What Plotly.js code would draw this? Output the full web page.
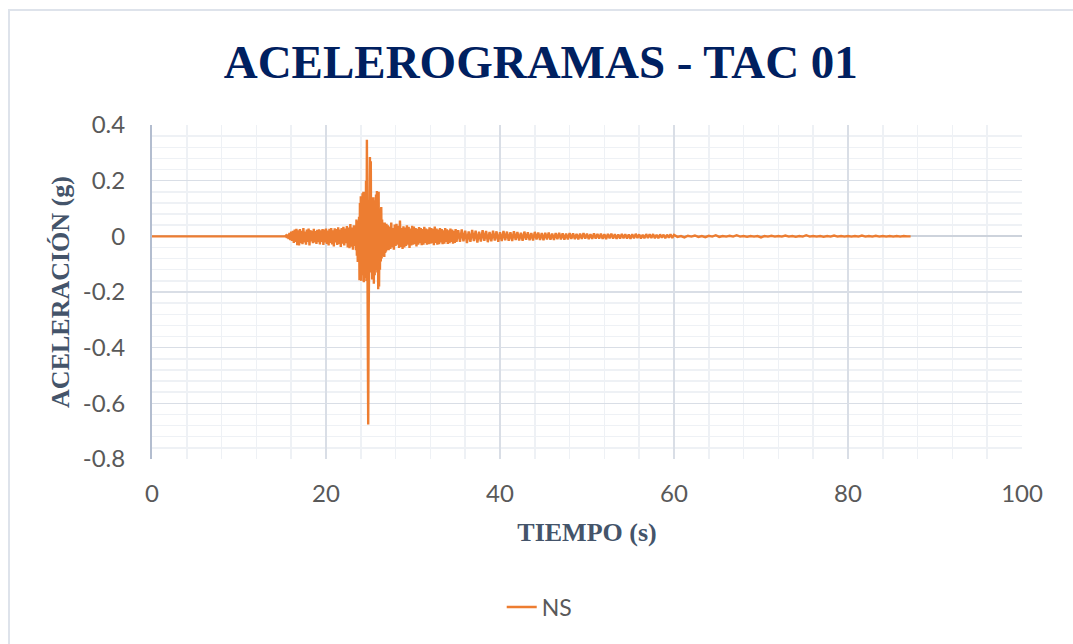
<!DOCTYPE html>
<html>
<head>
<meta charset="utf-8">
<script src="https://cdn.plot.ly/plotly-3.0.1.min.js"></script>
<style>
  html, body { margin: 0; padding: 0; background: #ffffff; }
  #wrap { position: relative; width: 1073px; height: 644px; overflow: hidden; }
  #chart { position: absolute; left: 0; top: 0; width: 1073px; height: 644px; }
  #frame { position: absolute; left: 8px; top: 9px; width: 1100px; height: 700px;
           border-top: 2px solid #DEE3EB; border-left: 2px solid #DEE3EB; pointer-events: none; }
</style>
</head>
<body>
<div id="wrap">
  <div id="chart"></div>
  <div id="frame"></div>
</div>
<script>
// ---- Data ----
const seriesName = "NS";
const chartTitle = "ACELEROGRAMAS - TAC 01";
const xTitle = "TIEMPO (s)";
const yTitle = "ACELERACIÓN (g)";

const xTickVals = [0, 20, 40, 60, 80, 100];
const xTickText = ["0", "20", "40", "60", "80", "100"];
const yTickVals = [0.4, 0.2, 0, -0.2, -0.4, -0.6, -0.8];
const yTickText = ["0.4", "0.2", "0", "-0.2", "-0.4", "-0.6", "-0.8"];

// Record segments: start time (s), sample interval (s), accelerations (g)
const segQuietStart = 0, segQuietDt = 15.3;
const segQuiet = [0, 0];

const segOnsetStart = 15.3, segOnsetDt = 0.1;
const segOnset = [
  0, 0.003, -0.005, 0.007, -0.01, 0.012, -0.014, 0.017, -0.016, 0.02,
  -0.024, 0.024, -0.02, 0.027, -0.032, 0.022, -0.033, 0.026, -0.025, 0.02,
  -0.028, 0.03, -0.022, 0.017, -0.03, 0.024, -0.02, 0.028, -0.033, 0.022,
  -0.018, 0.02, -0.025, 0.027, -0.022, 0.019, -0.027, 0.023, -0.021, 0.025,
  -0.029, 0.022, -0.02, 0.026, -0.031, 0.024, -0.022, 0.028, -0.027, 0.021,
  -0.033, 0.027, -0.024, 0.03, -0.029, 0.022, -0.036, 0.029, -0.022, 0.026,
  -0.031, 0.032, -0.027, 0.024, -0.038, 0.03, -0.026, 0.034, -0.033, 0.028,
  -0.025, 0.037, -0.04, 0.032, -0.043, 0.044, -0.037, 0.032, -0.048, 0.04,
  -0.032
];

const segBurstStart = 23.35, segBurstDt = 0.05;
const segBurst = [
  -0.03, 0.04, -0.05, 0.06, -0.07, 0.05, -0.092, 0.055, -0.06, 0.07,
  -0.158, 0.12, -0.1, 0.144, -0.16, 0.13, -0.14, 0.155, -0.12, 0.16,
  -0.165, 0.14, -0.15, 0.16, -0.13, 0.2, -0.16, 0.347, 0.1, -0.2,
  -0.676, -0.3, 0.12, -0.14, 0.285, -0.12, 0.27, -0.13, 0.14, -0.155,
  0.13, -0.12, 0.14, -0.17, 0.12, -0.14, 0.13, -0.1, 0.15, -0.12,
  0.163, -0.13, 0.155, -0.19, 0.16, -0.18, 0.1, -0.12, 0.08, -0.09,
  0.105, -0.08, 0.06, -0.07, 0.05, -0.065, 0.045, -0.074, 0.05, -0.06,
  0.04, -0.055, 0.045, -0.05
];

const segCodaStart = 27.1, segCodaDt = 0.1;
const segCoda = [
  0.04, -0.05, 0.035, -0.045, 0.05, -0.04, 0.03, -0.048, 0.042, -0.035,
  0.045, -0.03, 0.038, -0.042, 0.057, -0.038, 0.03, -0.045, 0.036, -0.04,
  0.032, -0.035, 0.04, -0.03, 0.034, -0.042, 0.028, -0.033, 0.038, -0.03,
  0.035, -0.028, 0.03, -0.036, 0.027, -0.03, 0.033, -0.025, 0.03, -0.032,
  0.026, -0.03, 0.034, -0.024, 0.028, -0.03, 0.025, -0.028, 0.032, -0.026,
  0.03, -0.025, 0.027, -0.032, 0.035, -0.024, 0.028, -0.03, 0.024, -0.028,
  0.03, -0.022, 0.026, -0.028, 0.022, -0.026, 0.03, -0.02, 0.025, -0.027,
  0.022, -0.025, 0.028, -0.02, 0.024, -0.026, 0.02, -0.024, 0.026, -0.02
];

const segDecayStart = 35.2, segDecayDt = 0.2;
const segDecay = [
  0.022, -0.02, 0.025, -0.018, 0.02, -0.024, 0.018, -0.02, 0.023, -0.017,
  0.02, -0.022, 0.017, -0.019, 0.022, -0.016, 0.019, -0.021, 0.016, -0.018,
  0.02, -0.015, 0.018, -0.02, 0.015, -0.017, 0.019, -0.014, 0.017, -0.016,
  0.015, -0.017, 0.018, -0.013, 0.016, -0.015, 0.013, -0.016, 0.017, -0.012,
  0.015, -0.014, 0.012, -0.015, 0.016, -0.011, 0.014, -0.013, 0.012, -0.014,
  0.013, -0.011, 0.014, -0.012, 0.01, -0.013, 0.012, -0.01, 0.013, -0.011,
  0.011, -0.012, 0.01, -0.011, 0.012, -0.009, 0.011, -0.01, 0.009, -0.011,
  0.01, -0.009, 0.012, -0.008, 0.01, -0.01, 0.008, -0.009, 0.011, -0.008,
  0.009, -0.008, 0.01, -0.009, 0.008, -0.01, 0.009, -0.007, 0.01, -0.008,
  0.008, -0.009, 0.007, -0.008, 0.009, -0.007, 0.008, -0.008, 0.007, -0.009,
  0.008, -0.007, 0.009, -0.006, 0.007, -0.008, 0.006, -0.007, 0.008, -0.006,
  0.007, -0.006, 0.008, -0.007, 0.006, -0.007, 0.007, -0.005, 0.006, -0.007,
  0.006, -0.005, 0.007, -0.006, 0.005
];

const segTailStart = 60.4, segTailDt = 0.4;
const segTail = [
  -0.002, 0.001, -0.004, 0.002, -0.001, 0.003, -0.002, 0.001, -0.003, 0.002,
  -0.001, 0.004, -0.002, 0.001, -0.001, 0.002, -0.001, 0.004, -0.001, 0.001,
  -0.002, 0.001, -0.001, 0.001, -0.004, 0.001, -0.001, 0.002, -0.001, 0.001,
  -0.001, 0.003, -0.001, 0.001, -0.002, 0.001, -0.001, 0.004, -0.001, 0.001,
  -0.001, 0.001, -0.002, 0.001, -0.001, 0.003, -0.001, 0.001, -0.001, 0.001,
  -0.001, 0.001, -0.001, 0.003, -0.001, 0.001, -0.001, 0.002, -0.001, 0.001,
  -0.001, 0.001, -0.001, 0.001, -0.001, 0.001, 0, 0
];

// ---- Assemble the record (time axis from each segment's start and sample interval) ----
const segments = [
  [segQuietStart, segQuietDt, segQuiet],
  [segOnsetStart, segOnsetDt, segOnset],
  [segBurstStart, segBurstDt, segBurst],
  [segCodaStart, segCodaDt, segCoda],
  [segDecayStart, segDecayDt, segDecay],
  [segTailStart, segTailDt, segTail]
];
const tiempo = [];
const aceleracion = [];
segments.forEach(([t0, dt, vals]) => {
  vals.forEach((v, i) => {
    tiempo.push(+(t0 + i * dt).toFixed(3));
    aceleracion.push(v);
  });
});

const tickFont = { family: "Lato, 'Open Sans', sans-serif", size: 24, color: "#595959" };
const axisTitleFont = { family: "'Liberation Serif', 'Times New Roman', serif", size: 26, color: "#44546A" };

const trace = {
  type: "scatter",
  mode: "lines",
  name: seriesName,
  x: tiempo,
  y: aceleracion,
  line: { color: "#ED7D31", width: 2.4 }
};

const layout = {
  width: 1073,
  height: 644,
  paper_bgcolor: "#ffffff",
  plot_bgcolor: "#ffffff",
  margin: { l: 152, r: 51, t: 125, b: 185 },
  title: {
    text: "<b>" + chartTitle + "</b>",
    font: { family: "'Liberation Serif', 'Times New Roman', serif", size: 47, color: "#002060" },
    xref: "container", x: 0.504, xanchor: "center",
    yref: "container", y: 1 - 62 / 644, yanchor: "middle"
  },
  xaxis: {
    range: [0, 100],
    tickvals: xTickVals,
    ticktext: xTickText,
    tickfont: tickFont,
    ticks: "outside",
    ticklen: 13,
    tickcolor: "rgba(0,0,0,0)",
    showgrid: true,
    gridcolor: "#D9DEE6",
    gridwidth: 1.5,
    minor: { dtick: 4, tick0: 0, showgrid: true, gridcolor: "#EEF1F5", gridwidth: 1.5, ticks: "" },
    zeroline: false,
    showline: false,
    fixedrange: true,
    title: { text: "<b>" + xTitle + "</b>", font: axisTitleFont, standoff: 17 },
    automargin: false
  },
  yaxis: {
    range: [-0.8, 0.4],
    tickvals: yTickVals,
    ticktext: yTickText,
    tickfont: tickFont,
    ticks: "outside",
    ticklen: 20,
    tickcolor: "rgba(0,0,0,0)",
    showgrid: true,
    gridcolor: "#D9DEE6",
    gridwidth: 1.5,
    minor: { dtick: 0.04, tick0: 0, showgrid: true, gridcolor: "#EEF1F5", gridwidth: 1.5, ticks: "" },
    zeroline: true,
    zerolinecolor: "#CDD3DC",
    zerolinewidth: 2,
    showline: true,
    linecolor: "#B3BDCF",
    linewidth: 2,
    fixedrange: true,
    title: { text: "<b>" + yTitle + "</b>", font: axisTitleFont, standoff: 6 },
    automargin: false
  },
  showlegend: true,
  legend: {
    orientation: "h",
    xref: "container", x: 0.503, xanchor: "center",
    yref: "container", y: 1 - 607 / 644, yanchor: "middle",
    font: { family: "Lato, 'Open Sans', sans-serif", size: 23, color: "#595959" },
    bgcolor: "rgba(0,0,0,0)",
    itemwidth: 30
  }
};

Plotly.newPlot("chart", [trace], layout, { displayModeBar: false, staticPlot: true });
</script>
</body>
</html>
